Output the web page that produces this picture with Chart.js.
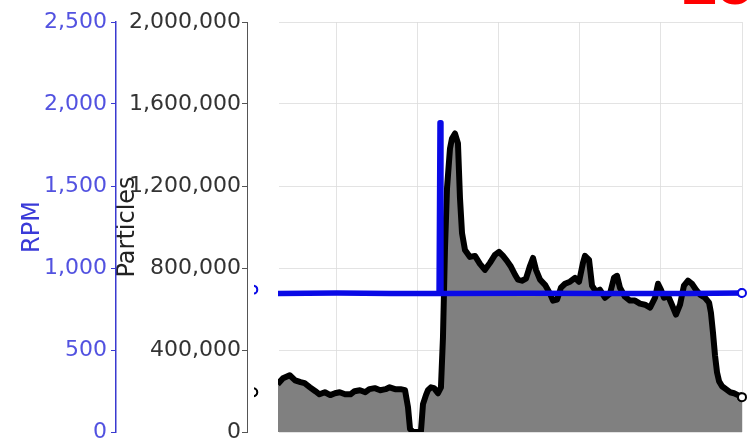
<!DOCTYPE html>
<html>
<head>
<meta charset="utf-8">
<script src="https://cdn.jsdelivr.net/npm/chart.js@4/dist/chart.umd.min.js"></script>
<style>
  html, body { margin: 0; padding: 0; background: #fff; overflow: hidden; }
  #wrap { position: relative; width: 756px; height: 447px; }
  #tag {
    position: absolute; left: 682px; top: -50px;
    font: bold 64px "Liberation Sans", Arial, sans-serif;
    line-height: 64px; color: #ff0000; white-space: nowrap;
  }
</style>
</head>
<body>
<div id="wrap">
  <canvas id="c" width="756" height="447"></canvas>
  <div id="tag">25</div>
</div>
<script>
// Particle counter trace (seconds, particles)
const seconds = [
  16, 20, 25, 29, 33, 36, 40, 44, 47, 51,
  55, 58.5, 62, 66, 70, 73, 77, 81, 84, 88,
  92, 96, 99, 103, 107, 110.4, 112.6, 114.1, 116.3, 120,
  122.2, 123.7, 125.9, 127.4, 129.6, 131.9, 134.8, 137, 138.5, 140,
  141.5, 143.7, 145.2, 147.4, 149.6, 151.1, 152.6, 154.8, 158.5, 162.2,
  165.9, 169.6, 173.3, 177, 180, 183, 185.9, 188.9, 191.9, 194.1,
  197, 200, 203, 205.2, 207.4, 210.4, 214.1, 217.8, 220, 223,
  225.9, 228.9, 232.6, 236.3, 239.3, 242.2, 243.7, 246.7, 248.9, 251.9,
  254.8, 258.5, 262.2, 265.2, 267.4, 269.6, 273.3, 277, 280.7, 284.4,
  288.1, 291.9, 295.6, 297.8, 300, 302.2, 305.2, 308.1, 311.1, 314.1,
  317, 320, 323, 325.9, 328.9, 332.6, 335.6, 337, 338.5, 340,
  341.5, 343, 345.2, 348.1, 351.1, 354.1, 357, 360
];
const particles = [
  233000, 262000, 277000, 252000, 243000, 238000, 218000, 199000, 184000, 194000,
  180000, 189000, 194000, 184000, 184000, 199000, 204000, 194000, 209000, 214000,
  204000, 209000, 218000, 209000, 209000, 204000, 121000, 15000, 0, 0,
  5000, 136000, 180000, 204000, 218000, 214000, 189000, 218000, 461000, 898000,
  1189000, 1383000, 1432000, 1456000, 1408000, 1141000, 971000, 888000, 854000, 859000,
  820000, 791000, 825000, 864000, 879000, 859000, 835000, 806000, 767000, 743000,
  738000, 748000, 811000, 849000, 791000, 743000, 718000, 675000, 641000, 646000,
  704000, 723000, 733000, 752000, 733000, 825000, 859000, 840000, 714000, 684000,
  694000, 655000, 675000, 752000, 762000, 704000, 660000, 641000, 641000, 626000,
  621000, 607000, 655000, 723000, 694000, 655000, 665000, 621000, 573000, 621000,
  714000, 738000, 723000, 694000, 670000, 655000, 631000, 582000, 485000, 374000,
  291000, 248000, 223000, 209000, 194000, 189000, 180000, 170000
];

// Spindle speed trace (seconds, RPM)
const rpmSeconds = [16, 60, 100, 135.6, 136.3, 137, 200, 260, 320, 360];
const rpm = [845, 848, 845, 845, 1885, 845, 846, 844, 845, 848];

// Open end markers for both traces
const markerSeconds = [-2, 360];
const rpmMarks = [868, 848];
const particleMarks = [194000, 170000];

// Axis tick values
const timeGrid = [60, 120, 180, 240, 300, 360];
const rpmTicks = [0, 500, 1000, 1500, 2000, 2500];
const particleTicks = [0, 400000, 800000, 1200000, 1600000, 2000000];

const pair = (xs, ys) => xs.map((x, i) => ({ x: x, y: ys[i] }));
const useTicks = list => scale => { scale.ticks = list.map(v => ({ value: v })); };

// End markers may sit just left of the plot area; draw them with a
// slightly widened clip so the outer one shows as a partial ring.
const endMarkerPlugin = {
  id: 'endMarkers',
  afterDatasetsDraw(chart) {
    const { ctx, chartArea } = chart;
    chart.data.datasets.forEach((ds, i) => {
      if (!ds.endMarkers) return;
      const meta = chart.getDatasetMeta(i);
      ctx.save();
      ctx.beginPath();
      ctx.rect(chartArea.left - 24, chartArea.top - 10,
               chartArea.right - chartArea.left + 34, chartArea.bottom - chartArea.top + 20);
      ctx.clip();
      meta.data.forEach(el => el.draw(ctx));
      ctx.restore();
    });
  }
};

Chart.defaults.font.family = '"DejaVu Sans", "Liberation Sans", sans-serif';

const BLUE = '#0a0ae6';
const GRID = 'rgba(220,220,220,0.8)';

new Chart(document.getElementById('c'), {
  type: 'line',
  plugins: [endMarkerPlugin],
  data: {
    datasets: [
      {
        label: 'RPM',
        data: pair(rpmSeconds, rpm),
        yAxisID: 'rpm',
        borderColor: BLUE,
        borderWidth: 5.5,
        borderJoinStyle: 'round',
        borderCapStyle: 'round',
        pointRadius: 0,
        fill: false,
        tension: 0,
        order: 1
      },
      {
        label: 'Particles',
        data: pair(seconds, particles),
        yAxisID: 'y',
        borderColor: '#000',
        borderWidth: 6,
        borderJoinStyle: 'round',
        backgroundColor: '#808080',
        fill: 'origin',
        pointRadius: 0,
        tension: 0,
        order: 2
      },
      {
        label: 'RPM ends',
        endMarkers: true,
        data: pair(markerSeconds, rpmMarks),
        yAxisID: 'rpm',
        showLine: false,
        pointRadius: 4,
        pointBorderWidth: 2,
        pointBackgroundColor: '#fff',
        pointBorderColor: BLUE,
        order: 0
      },
      {
        label: 'Particle ends',
        endMarkers: true,
        data: pair(markerSeconds, particleMarks),
        yAxisID: 'y',
        showLine: false,
        pointRadius: 4,
        pointBorderWidth: 2,
        pointBackgroundColor: '#fff',
        pointBorderColor: '#000',
        order: 0
      }
    ]
  },
  options: {
    responsive: false,
    animation: false,
    layout: { padding: { left: 0, right: 14, top: 22, bottom: 12 } },
    plugins: { legend: { display: false }, tooltip: { enabled: false } },
    scales: {
      x: {
        type: 'linear',
        min: 16.3,
        max: 360,
        z: 1,
        afterBuildTicks: useTicks(timeGrid),
        ticks: { display: false },
        grid: { color: GRID, lineWidth: 1, drawTicks: false },
        border: { display: false }
      },
      rpm: {
        type: 'linear',
        position: 'left',
        weight: 2,
        min: 0,
        max: 2500,
        afterBuildTicks: useTicks(rpmTicks),
        afterFit: s => { s.width = 116; },
        ticks: { color: '#5252e0', font: { size: 22, lineHeight: 1 }, padding: 4 },
        grid: { drawOnChartArea: false, tickLength: 5, tickColor: '#3a3ad0' },
        border: { color: '#3a3ad0', width: 1.5 },
        title: {
          display: true, text: 'RPM', color: '#3a3ad8',
          font: { size: 24, lineHeight: 1.2 }, padding: { top: 18.6, bottom: 0 }
        }
      },
      y: {
        type: 'linear',
        position: 'left',
        weight: 1,
        min: 0,
        max: 2000000,
        z: 1,
        afterBuildTicks: useTicks(particleTicks),
        afterFit: s => { s.width = 131; },
        ticks: { color: '#333', font: { size: 22, lineHeight: 1 }, padding: 1 },
        grid: { color: GRID, lineWidth: 1, tickLength: 5, tickColor: '#555' },
        border: { color: '#555', width: 1 },
        title: {
          display: true, text: 'Particles', color: '#222',
          font: { size: 24, lineHeight: 1.2 }, padding: { top: -2.4, bottom: 0 }
        }
      },
      yPad: {
        type: 'linear',
        position: 'left',
        weight: 0,
        afterFit: s => { s.width = 31; },
        ticks: { display: false },
        grid: { display: false },
        border: { display: false }
      }
    }
  }
});
</script>
</body>
</html>
